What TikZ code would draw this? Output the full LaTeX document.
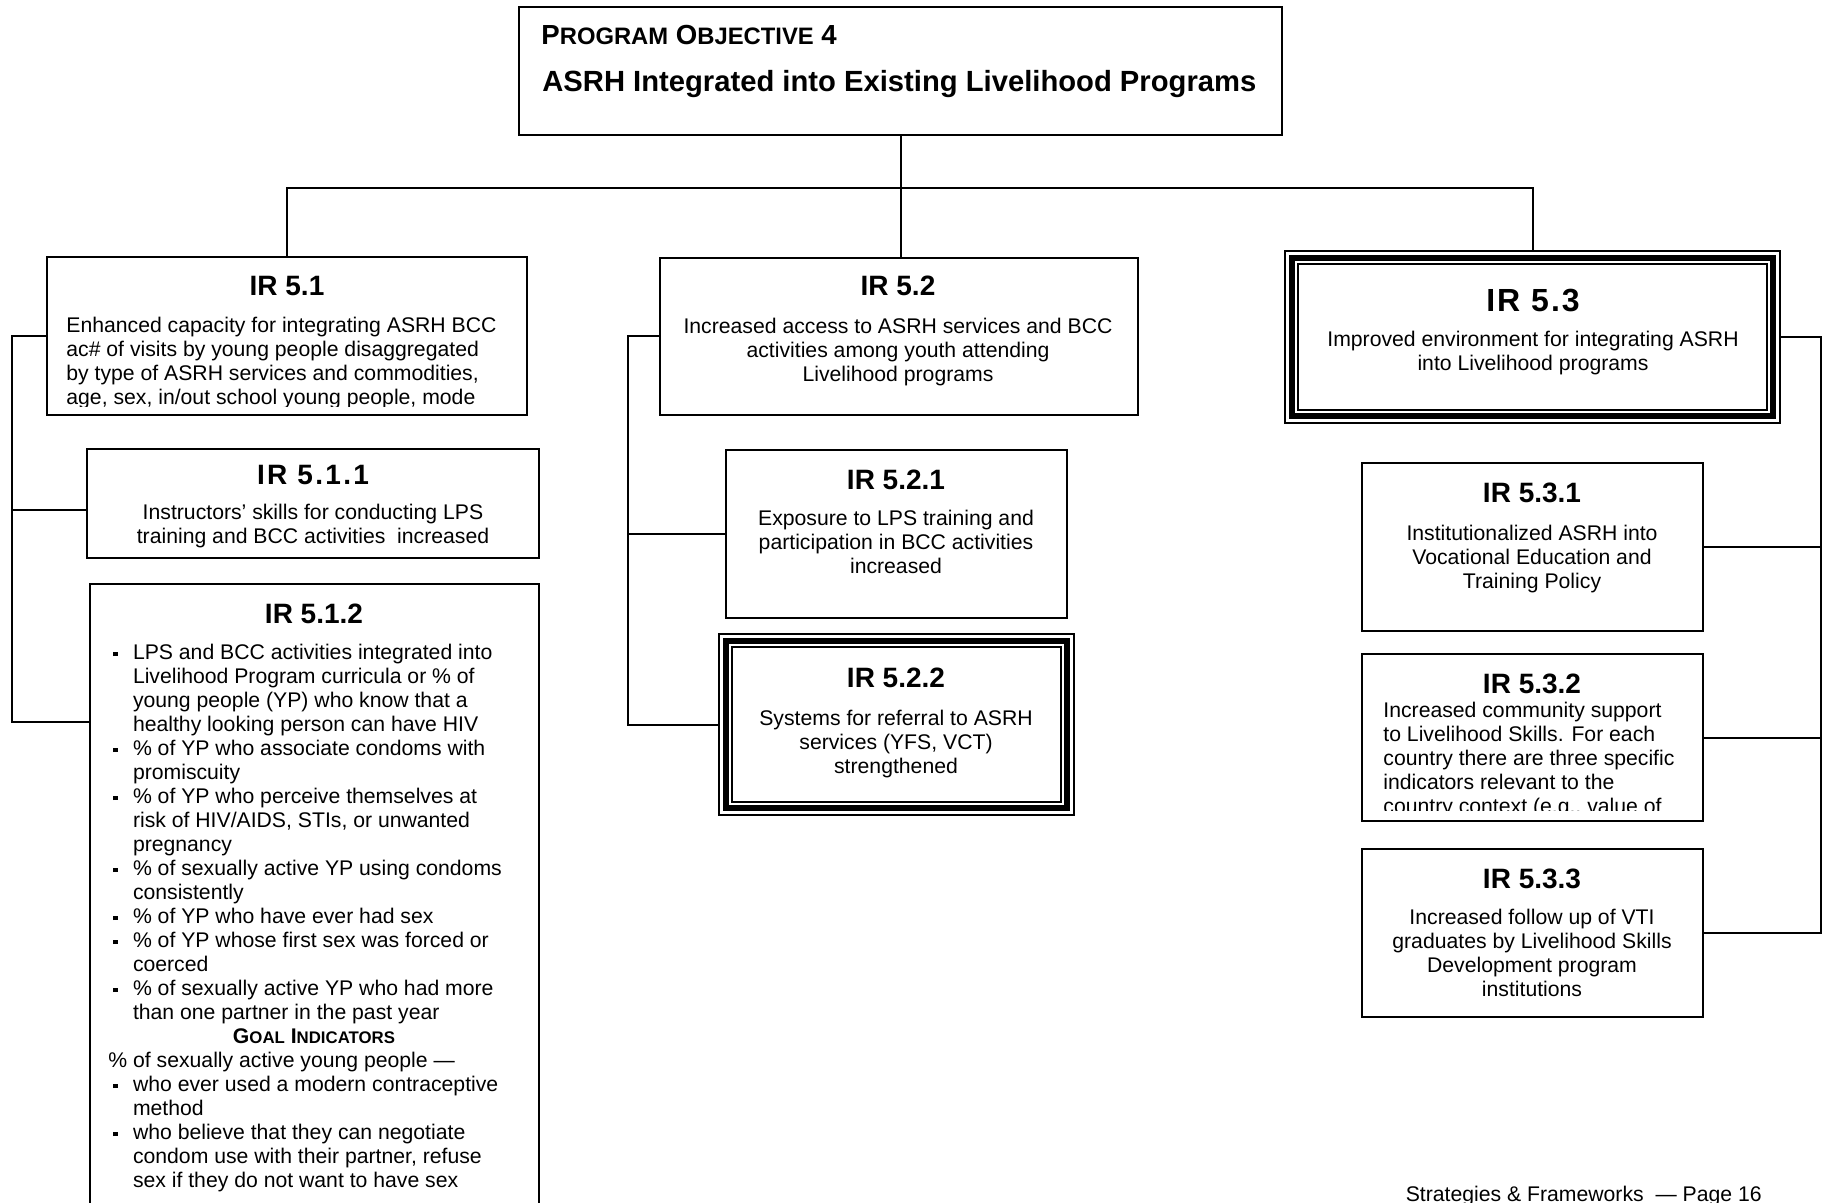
\documentclass[tikz,border=0pt]{standalone}
\usepackage{fontspec}
\setmainfont{Liberation Sans}
\usetikzlibrary{fit,calc}

% type sizes (1 unit of the picture = 0.5pt)
\newcommand\bodyfont{\fontsize{10.6}{12}\selectfont}
\newcommand\headfont{\fontsize{14}{16}\selectfont\bfseries}
\newcommand\bigheadfont{\fontsize{16}{18}\selectfont\bfseries}
\newcommand\titlefont{\fontsize{14.6}{17}\selectfont\bfseries}
\newcommand\objsc[1]{{\fontsize{11.9}{14}\selectfont #1}}
\newcommand\goalsc[1]{{\fontsize{8.4}{10}\selectfont #1}}
% square bullets and hanging indent for the indicator lists
\newcommand\sqbul{\hspace*{2.4pt}\rule[1.7pt]{2.2pt}{2.2pt}\hspace*{7.7pt}}
\newcommand\contind{\hspace*{12.3pt}}

\begin{document}
\begin{tikzpicture}[x=0.5pt,y=-0.5pt,
  box/.style={draw, line width=1pt, inner sep=0pt},
  frame/.style={draw, line width=0.8pt, inner sep=0pt},
  thickrule/.style={line width=3.1pt},
  thinrule/.style={line width=0.85pt},
  link/.style={line width=1pt},
  head/.style={anchor=base, inner sep=0pt, font=\headfont},
  bighead/.style={anchor=base, inner sep=0pt, font=\bigheadfont},
  body/.style={anchor=north, inner sep=0pt, align=center, font=\bodyfont},
  bodyl/.style={anchor=north west, inner sep=0pt, align=left, font=\bodyfont},
]
\useasboundingbox (0,0) rectangle (1824,1203);
\fill[white] (0,0) rectangle (1824,1203);
\clip (0,0) rectangle (1824,1203);

% ---------- boxes ----------
\node[box, fit={(519,7) (1282,135)}] (obj) {};
\node[box, fit={(46.5,257) (527,415)}] (ir51) {};
\node[box, fit={(87,449) (539,558)}] (ir511) {};
\node[box, fit={(90,584) (539,1240)}] (ir512) {};
\node[box, fit={(660,258) (1138,415)}] (ir52) {};
\node[box, fit={(726,450) (1067,618)}] (ir521) {};
\node[frame, fit={(719,634) (1074,815)}] (ir522) {};
\node[frame, fit={(1285,251) (1780,423)}] (ir53) {};
\node[box, fit={(1362,463) (1703,631)}] (ir531) {};
\node[box, fit={(1362,654) (1703,821)}] (ir532) {};
\node[box, fit={(1362,849) (1703,1017)}] (ir533) {};

% triple borders of the two highlighted results
\foreach \b in {ir522, ir53} {
  \draw[thickrule] ($(\b.north west)+(7.5,7.5)$) rectangle ($(\b.south east)+(-7.5,-7.5)$);
  \draw[thinrule] ($(\b.north west)+(13.5,13.5)$) rectangle ($(\b.south east)+(-13.5,-13.5)$);
}

% ---------- connectors ----------
\coordinate (hbus) at (0,188);
\coordinate (lbus) at (12,0);
\coordinate (mbus) at (628,0);
\coordinate (rbus) at (1821,0);
\coordinate (lstub) at (0,510);
\coordinate (lend) at (0,722);

\draw[link] (obj.south) -- (obj.south |- ir52.north);
\draw[link] (ir51.north) |- (ir53.north |- hbus) -- (ir53.north);

\draw[link] (ir51.west) -| (lbus |- lend) -- (ir512.west |- lend);
\draw[link] (lbus |- lstub) -- (ir511.west |- lstub);

\draw[link] (ir52.west) -| (mbus |- ir522.west) -- (ir522.west);
\draw[link] (ir521.west) -- (ir521.west -| mbus);

\draw[link] (ir53.east) -| (rbus |- ir533.east) -- (ir533.east);
\draw[link] (ir531.east) -- (ir531.east -| rbus);
\draw[link] (ir532.east) -- (ir532.east -| rbus);

% ---------- program objective ----------
\node[anchor=base west, inner sep=0pt, font=\fontsize{13.8}{16}\selectfont\bfseries] (objnum) at (541,45)
  {P\objsc{ROGRAM} O\objsc{BJECTIVE} 4};
\node[anchor=base west, inner sep=0pt, font=\titlefont] (objtitle) at (542,91.5)
  {ASRH Integrated into Existing Livelihood Programs};

% ---------- IR 5.1 ----------
\node[head] (h51) at (287,296) {IR 5.1};
\begin{scope}
  \clip (ir51.north west) rectangle ($(ir51.south east)+(0,-10)$);
  \node[bodyl] (t51) at (66,315.7) {\strut Enhanced capacity for integrating ASRH BCC\\
    ac\# of visits by young people disaggregated\\
    by type of ASRH services and commodities,\\
    age, sex, in/out school young people, mode};
\end{scope}

\node[head] (h511) at (313,484)
  {I\kern1.15pt R\kern1.15pt\ 5\kern1.15pt.\kern1.15pt1\kern1.15pt.\kern1.15pt1};
\node[body] (t511) at (313,502.7) {\strut Instructors’ skills for conducting LPS\\
  training and BCC activities\ \ increased};

\node[head] (h512) at (314,623) {IR 5.1.2};
\node[bodyl] (t512a) at (108,642.4) {\strut\sqbul LPS and BCC activities integrated into\\
  \contind Livelihood Program curricula or \% of\\
  \contind young people (YP) who know that a\\
  \contind healthy looking person can have HIV\\
  \sqbul \% of YP who associate condoms with\\
  \contind promiscuity\\
  \sqbul \% of YP who perceive themselves at\\
  \contind risk of HIV/AIDS, STIs, or unwanted\\
  \contind pregnancy\\
  \sqbul \% of sexually active YP using condoms\\
  \contind consistently\\
  \sqbul \% of YP who have ever had sex\\
  \sqbul \% of YP whose first sex was forced or\\
  \contind coerced\\
  \sqbul \% of sexually active YP who had more\\
  \contind than one partner in the past year};
\node[anchor=base, inner sep=0pt, font=\bodyfont\bfseries] (goal) at (314,1043.2)
  {G\goalsc{OAL} I\goalsc{NDICATORS}};
\node[bodyl] (t512b) at (108,1050.4) {\strut\% of sexually active young people —\\
  \sqbul who ever used a modern contraceptive\\
  \contind method\\
  \sqbul who believe that they can negotiate\\
  \contind condom use with their partner, refuse\\
  \contind sex if they do not want to have sex};

% ---------- IR 5.2 ----------
\node[head] (h52) at (898,296) {IR 5.2};
\node[body] (t52) at (898,316.7) {\strut Increased access to ASRH services and BCC\\
  activities among youth attending\\
  Livelihood programs};

\node[head] (h521) at (896,489) {IR 5.2.1};
\node[body] (t521) at (896,508.7) {\strut Exposure to LPS training and\\
  participation in BCC activities\\
  increased};

\node[head] (h522) at (896,687) {IR 5.2.2};
\node[body] (t522) at (896,708.7) {\strut Systems for referral to ASRH\\
  services (YFS, VCT)\\
  strengthened};

% ---------- IR 5.3 ----------
\node[bighead] (h53) at (1533,311.5)
  {I\kern1pt R\kern1pt\ 5\kern1pt.\kern1pt3};
\node[body] (t53) at (1533,329.7) {\strut Improved environment for integrating ASRH\\
  into Livelihood programs};

\node[head] (h531) at (1532,502) {IR 5.3.1};
\node[body] (t531) at (1532,523.7) {\strut Institutionalized ASRH into\\
  Vocational Education and\\
  Training Policy};

\node[head] (h532) at (1532,693) {IR 5.3.2};
\begin{scope}
  \clip (ir532.north west) rectangle ($(ir532.south east)+(0,-11.5)$);
  \node[bodyl] (t532) at (1383,700.7) {\strut Increased community support\\
    to Livelihood Skills. For each\\
    country there are three specific\\
    indicators relevant to the\\
    country context (e.g., value of};
\end{scope}

\node[head] (h533) at (1532,888) {IR 5.3.3};
\node[body] (t533) at (1532,907.7) {\strut Increased follow up of VTI\\
  graduates by Livelihood Skills\\
  Development program\\
  institutions};

% ---------- page footer ----------
\node[anchor=base east, inner sep=0pt, font=\bodyfont] (footer) at (1762,1201)
  {Strategies \& Frameworks\ \ — Page 16};
\end{tikzpicture}
\end{document}
